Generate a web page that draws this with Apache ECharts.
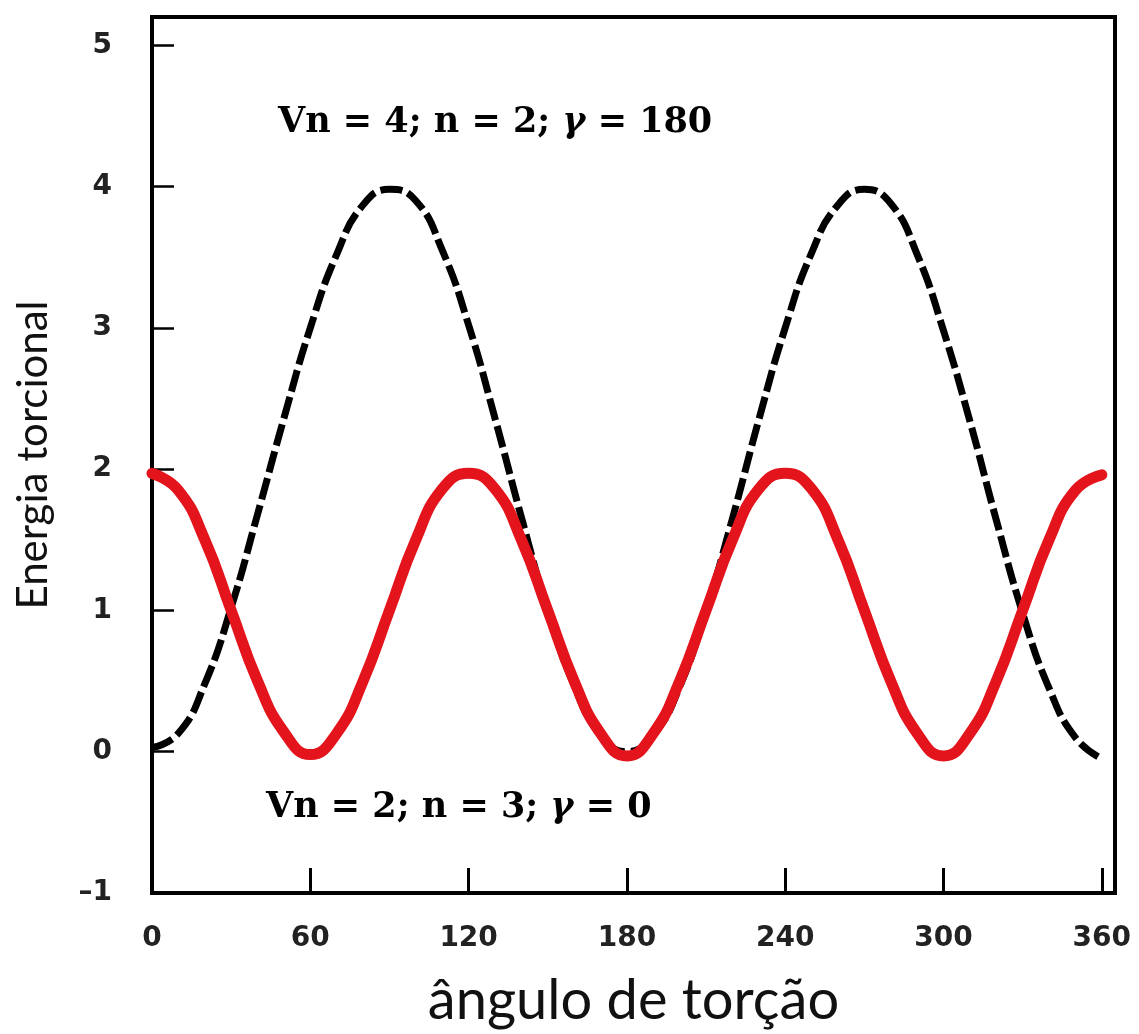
<!DOCTYPE html>
<html>
<head>
<meta charset="utf-8">
<script src="https://cdn.jsdelivr.net/npm/echarts@6/dist/echarts.min.js"></script>
<style>
html,body{margin:0;padding:0;background:#fff;}
#c{width:1139px;height:1034px;}
</style>
</head>
<body>
<div id="c"></div>
<script>
// torsion angle (degrees)
var angles = [0,10,20,30,40,50,60,70,80,90,100,110,120,130,140,150,160,170,180,190,200,210,220,230,240,250,260,270,280,290,300,310,320,330,340,350,360];
// Vn = 4; n = 2; gamma = 180 (black dashed)
var energyN2 = [0.03,0.13,0.48,1.02,1.68,2.36,3.0,3.52,3.87,3.98,3.9,3.55,3.02,2.36,1.66,1.0,0.47,0.12,0.0,0.12,0.46,1.0,1.65,2.35,3.0,3.53,3.87,3.98,3.88,3.52,2.98,2.34,1.64,0.98,0.45,0.1,-0.05];
// Vn = 2; n = 3; gamma = 0 (red)
var energyN3 = [1.97,1.85,1.5,1.0,0.5,0.14,-0.02,0.13,0.5,1.0,1.5,1.86,1.97,1.86,1.5,1.0,0.5,0.13,-0.03,0.13,0.5,1.0,1.5,1.86,1.97,1.86,1.5,1.0,0.5,0.13,-0.03,0.13,0.5,1.0,1.5,1.85,1.96];
// tick labels
var xTicks = [0,60,120,180,240,300,360];
var yTicks = [-1,0,1,2,3,4,5];
var labelN2 = 'Vn = 4; n = 2; ';
var labelN3 = 'Vn = 2; n = 3; ';
var gammaN2 = '180';
var gammaN3 = '0';
var xTitle = 'ângulo de torção';
var yTitle = 'Energia torcional';

function pairs(xs, ys){ return xs.map(function(x,i){ return [x, ys[i]]; }); }

var chart = echarts.init(document.getElementById('c'), null, {renderer:'canvas'});
var tickFont = {fontFamily:'DejaVu Sans', fontWeight:'bold', fontSize:28, color:'#222'};
var annotRich = {
  a:{fontFamily:'DejaVu Serif', fontWeight:'bold', fontSize:35, color:'#1a1a1a'},
  g:{fontFamily:'DejaVu Serif', fontWeight:'bold', fontStyle:'italic', fontSize:35, color:'#1a1a1a'}
};
chart.setOption({
  backgroundColor:'#ffffff',
  animation:false,
  grid:{left:152, right:24, top:17, bottom:137, show:true, borderColor:'#000', borderWidth:4, backgroundColor:'transparent'},
  xAxis:{
    type:'value', min:0, max:365,
    axisLine:{show:false, onZero:false},
    splitLine:{show:false},
    axisTick:{show:true, inside:true, length:25, customValues:xTicks, lineStyle:{color:'#000', width:3}},
    axisLabel:Object.assign({customValues:xTicks, margin:32}, tickFont),
    name:xTitle, nameLocation:'middle', nameGap:80,
    nameTextStyle:{fontFamily:'Lato', fontSize:56, color:'#111'}
  },
  yAxis:{
    type:'value', min:-1, max:5.2,
    axisLine:{show:false, onZero:false},
    splitLine:{show:false},
    axisTick:{show:true, inside:true, length:22, customValues:yTicks, lineStyle:{color:'#000', width:2.5}},
    axisLabel:Object.assign({customValues:yTicks, margin:40, formatter:function(v){ return v<0 ? '\u2013'+Math.abs(v) : String(v); }}, tickFont),
    name:yTitle, nameLocation:'middle', nameGap:98, nameRotate:90,
    nameTextStyle:{fontFamily:'Lato', fontSize:42, color:'#111'}
  },
  graphic:[
    {type:'text', left:278, top:105, style:{text:'{a|'+labelN2+'}{g|\u03b3}{a| = '+gammaN2+'}', rich:annotRich}},
    {type:'text', left:266, top:790, style:{text:'{a|'+labelN3+'}{g|\u03b3}{a| = '+gammaN3+'}', rich:annotRich}}
  ],
  series:[
    {type:'line', data:pairs(angles, energyN2), smooth:true, symbol:'none', z:2,
     lineStyle:{color:'#000', width:7, type:[22,6], cap:'butt'}},
    {type:'line', data:pairs(angles, energyN3), smooth:true, symbol:'none', z:3,
     lineStyle:{color:'#e3141b', width:11, cap:'round'}}
  ]
});
</script>
</body>
</html>
